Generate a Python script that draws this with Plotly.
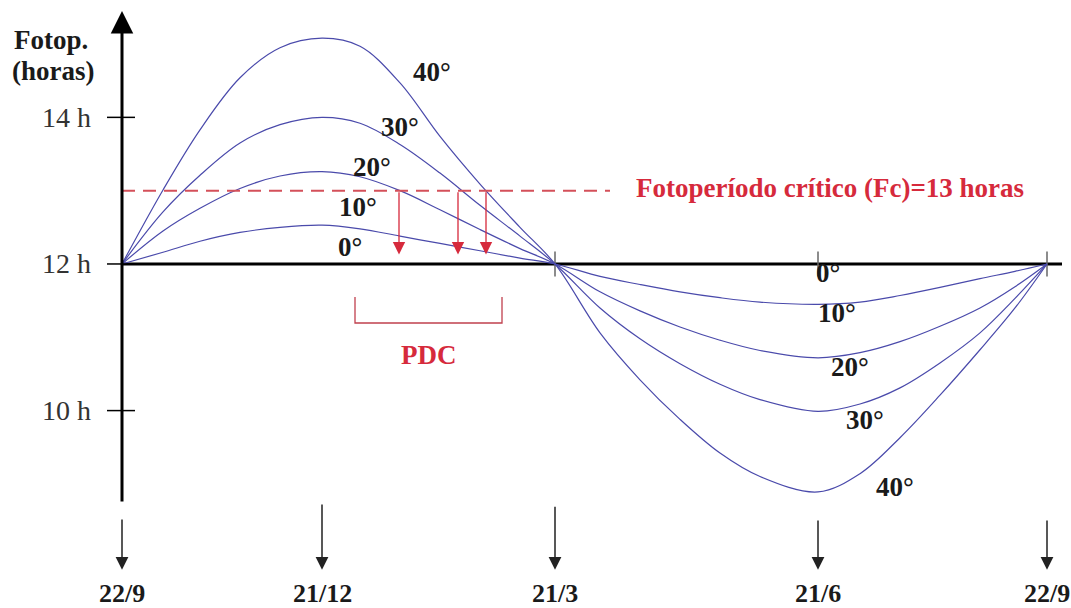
import plotly.graph_objects as go

# ---------------- data ----------------
# schematic positions of the key dates along the horizontal axis
date_labels = ["22/9", "21/12", "21/3", "21/6", "22/9"]
date_x = [122, 322, 555, 818, 1047]

# sample positions along the schematic axis
curve_x = [122, 163, 200, 240, 280, 322, 360, 400, 440, 480, 520, 555,
           600, 640, 680, 720, 760, 818, 860, 900, 940, 980, 1015, 1047]

# photoperiod (hours) for each latitude
lat_10 = [12.00, 12.16, 12.31, 12.43, 12.50, 12.53, 12.48, 12.38, 12.28, 12.18, 12.08, 12.00,
          11.83, 11.72, 11.62, 11.54, 11.48, 11.45, 11.48, 11.57, 11.68, 11.80, 11.90, 12.00]
lat_20 = [12.00, 12.45, 12.76, 13.03, 13.20, 13.26, 13.19, 13.00, 12.74, 12.47, 12.21, 12.00,
          11.62, 11.36, 11.14, 10.96, 10.82, 10.72, 10.79, 10.94, 11.15, 11.40, 11.69, 12.00]
lat_30 = [12.00, 12.71, 13.21, 13.65, 13.90, 14.00, 13.92, 13.63, 13.24, 12.80, 12.38, 12.00,
          11.40, 10.98, 10.64, 10.36, 10.15, 9.99, 10.09, 10.31, 10.65, 11.06, 11.53, 12.00]
lat_40 = [12.00, 13.01, 13.83, 14.54, 14.95, 15.08, 14.97, 14.47, 13.74, 13.09, 12.50, 12.00,
          11.06, 10.42, 9.88, 9.42, 9.10, 8.89, 9.14, 9.63, 10.21, 10.83, 11.40, 12.00]
curves = [lat_10, lat_20, lat_30, lat_40]

lat_names = ["0°", "10°", "20°", "30°", "40°"]
# label anchor points (x, hours) – upper and lower halves
lat_label_top_x = [350, 358, 372, 400, 432]
lat_label_top_y = [12.23, 12.78, 13.32, 13.87, 14.62]
lat_label_bot_x = [828, 837, 850, 865, 895]
lat_label_bot_y = [11.88, 11.33, 10.59, 9.87, 8.96]

y_ticks = [10, 12, 14]
y_tick_labels = ["10 h", "12 h", "14 h"]

critical_hours = 13
critical_text = "Fotoperíodo crítico (Fc)=13 horas"
pdc_arrow_x = [399, 458, 486]   # where 20°, 30°, 40° curves cross Fc
pdc_range = [355, 502]

# ---------------- styling ----------------
SERIF = "Liberation Serif"
CURVE = "#4a4aab"
RED = "#d62a3c"
DASHRED = "#d4505a"
BLACK = "#1a1a1a"

fig = go.Figure()

for vals in curves:
    fig.add_trace(go.Scatter(x=curve_x, y=vals, mode="lines",
                             line=dict(color=CURVE, width=1.2, shape="spline", smoothing=1.0),
                             hoverinfo="skip", showlegend=False))

shapes = []
ann = []

# horizontal axis (12 h)
shapes.append(dict(type="line", xref="x", yref="y", x0=date_x[0], x1=1062, y0=12, y1=12,
                   line=dict(color="black", width=3), layer="below"))
# small ticks on horizontal axis
for xx in date_x[2:]:
    shapes.append(dict(type="line", xref="x", yref="y", x0=xx, x1=xx, y0=11.83, y1=12.17,
                       line=dict(color="#666", width=1.5), layer="below"))
# vertical axis with arrow head
ann.append(dict(x=date_x[0], y=15.45, ax=date_x[0], ay=8.74, xref="x", yref="y",
                axref="x", ayref="y", showarrow=True, arrowhead=2, arrowsize=1.5,
                arrowwidth=3, arrowcolor="black", text=""))
# y ticks + labels
for t, lab in zip(y_ticks, y_tick_labels):
    shapes.append(dict(type="line", xref="x", yref="y", x0=107, x1=135, y0=t, y1=t,
                       line=dict(color="black", width=1.5)))
    ann.append(dict(x=93, y=t, xref="x", yref="y", text=lab, showarrow=False,
                    xanchor="right", yanchor="middle",
                    font=dict(family=SERIF, size=28, color="#333")))

# axis title
ann.append(dict(x=12, y=15.06, xref="x", yref="y", text="Fotop.", showarrow=False,
                xanchor="left", yanchor="middle",
                font=dict(family=SERIF, size=27, color=BLACK, weight="bold")))
ann.append(dict(x=10, y=14.63, xref="x", yref="y", text="(horas)", showarrow=False,
                xanchor="left", yanchor="middle",
                font=dict(family=SERIF, size=27, color=BLACK, weight="bold")))

# critical photoperiod line and text
shapes.append(dict(type="line", xref="x", yref="y", x0=date_x[0], x1=610,
                   y0=critical_hours, y1=critical_hours,
                   line=dict(color=DASHRED, width=2, dash="13px,8px")))
ann.append(dict(x=830, y=critical_hours + 0.03, xref="x", yref="y", text=critical_text,
                showarrow=False, xanchor="center", yanchor="middle",
                font=dict(family=SERIF, size=27, color=RED, weight="bold")))

# red arrows down to 12 h
for xx in pdc_arrow_x:
    ann.append(dict(x=xx, y=12.13, ax=xx, ay=critical_hours, xref="x", yref="y",
                    axref="x", ayref="y", showarrow=True, arrowhead=2, arrowsize=1.9,
                    arrowwidth=1.3, arrowcolor=RED, text=""))

# PDC bracket
shapes.append(dict(type="path", xref="x", yref="y",
                   path=f"M{pdc_range[0]},11.55 L{pdc_range[0]},11.195 "
                        f"L{pdc_range[1]},11.195 L{pdc_range[1]},11.55",
                   line=dict(color="#c0404e", width=1.3)))
ann.append(dict(x=(pdc_range[0] + pdc_range[1]) / 2, y=10.76, xref="x", yref="y", text="PDC",
                showarrow=False, xanchor="center", yanchor="middle",
                font=dict(family=SERIF, size=27, color=RED, weight="bold")))

# latitude labels
for name, x1, y1, x2, y2 in zip(lat_names, lat_label_top_x, lat_label_top_y,
                                lat_label_bot_x, lat_label_bot_y):
    for xx, yy in ((x1, y1), (x2, y2)):
        ann.append(dict(x=xx, y=yy, xref="x", yref="y", text=name, showarrow=False,
                        xanchor="center", yanchor="middle",
                        font=dict(family=SERIF, size=27, color=BLACK, weight="bold")))

# date arrows and labels
arrow_tops = [8.535, 8.74, 8.71, 8.52, 8.52]
for xx, lab, top in zip(date_x, date_labels, arrow_tops):
    ann.append(dict(x=xx, y=7.83, ax=xx, ay=top, xref="x", yref="y",
                    axref="x", ayref="y", showarrow=True, arrowhead=2, arrowsize=1.7,
                    arrowwidth=1.5, arrowcolor="#222", text=""))
    ann.append(dict(x=xx, y=7.51, xref="x", yref="y", text=lab, showarrow=False,
                    xanchor="center", yanchor="middle",
                    font=dict(family=SERIF, size=26, color=BLACK, weight="bold")))

fig.update_layout(
    width=1071, height=608, autosize=False,
    margin=dict(l=0, r=0, t=0, b=0),
    paper_bgcolor="white", plot_bgcolor="white",
    xaxis=dict(range=[0, 1071], visible=False, fixedrange=True),
    yaxis=dict(range=[7.307, 15.601], visible=False, fixedrange=True),
    shapes=shapes, annotations=ann, showlegend=False,
)

fig.write_html("out.html", config={"displayModeBar": False},
               post_script="document.body.style.margin='0';"
                           "document.body.style.overflow='hidden';")
